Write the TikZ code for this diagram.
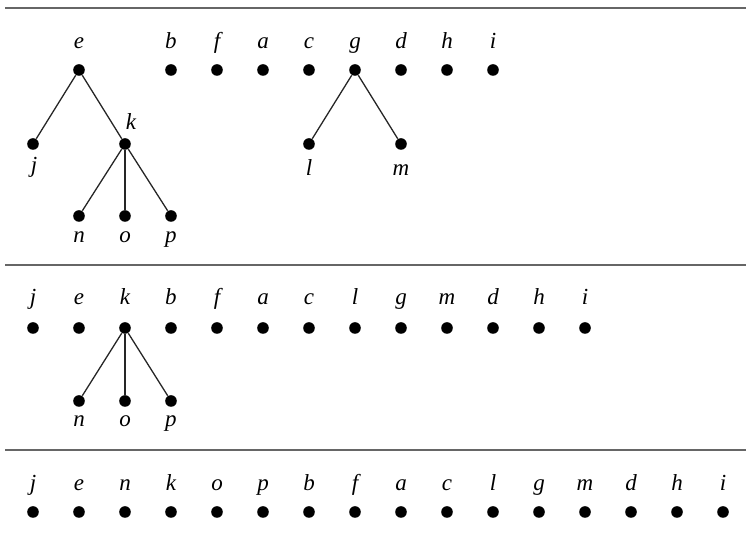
\documentclass[tikz,border=0pt]{standalone}
\usepackage{fontspec}
\setmainfont{Liberation Serif}
\tikzset{vertex/.style={circle, fill=black, inner sep=0pt, minimum size=5.8pt},
  vlabel/.style={anchor=base, inner sep=0pt, font=\fontsize{11.5}{13}\selectfont\itshape},
  edge/.style={line width=0.65pt, black!85},
  rule/.style={line width=0.8pt, black!60}}

\begin{document}
\begin{tikzpicture}[x=0.5pt, y=-0.5pt]
    \useasboundingbox (0,0) rectangle (746,533);
    % separating rules
    \coordinate (ra) at (5,8);   \coordinate (rb) at (746,8);
    \coordinate (rc) at (5,265); \coordinate (rd) at (746,265);
    \coordinate (re) at (5,450); \coordinate (rf) at (746,450);
    \draw[rule] (ra) -- (rb);
    \draw[rule] (rc) -- (rd);
    \draw[rule] (re) -- (rf);

    % first forest
    \foreach \v/\x in {e/79, b/171, f/217, a/263, c/309, g/355, d/401, h/447, i/493}
      \path (\x,70) node[vertex] (t\v) {}
            (\x,49) node[vlabel] (tl\v) {\v};
    \path
    (33,144) node[vertex] (tj) {}
    (125,144) node[vertex] (tk) {}
    (309,144) node[vertex] (tl) {}
    (401,144) node[vertex] (tm) {}
    (79,216) node[vertex] (tn) {}
    (125,216) node[vertex] (to) {}
    (171,216) node[vertex] (tp) {};
    \path
    (34,173) node[vlabel] (tlj) {j}
    (131,130) node[vlabel] (tlk) {k}
    (309,176) node[vlabel] (tll) {l}
    (401,176) node[vlabel] (tlm) {m}
    (79,243) node[vlabel] (tln) {n}
    (125,243) node[vlabel] (tlo) {o}
    (171,243) node[vlabel] (tlp) {p};
    \draw[edge] (tj) -- (te) -- (tk);
    \draw[edge] (tn) -- (tk) -- (tp);
    \draw[edge] (tk) -- (to);
    \draw[edge] (tl) -- (tg) -- (tm);

    % second forest
    \foreach \v [count=\i from 0] in {j,e,k,b,f,a,c,l,g,m,d,h,i}
      \path (33+46*\i,328) node[vertex] (m\v) {}
            (33+46*\i,305) node[vlabel] (ml\v) {\v};
    \path
    (79,401) node[vertex] (mn) {}
    (125,401) node[vertex] (mo) {}
    (171,401) node[vertex] (mp) {};
    \path
    (79,427) node[vlabel] (mln) {n}
    (125,427) node[vlabel] (mlo) {o}
    (171,427) node[vlabel] (mlp) {p};
    \draw[edge] (mn) -- (mk) -- (mp);
    \draw[edge] (mk) -- (mo);

    % final order
    \foreach \v [count=\i from 0] in {j,e,n,k,o,p,b,f,a,c,l,g,m,d,h,i}
      \path (33+46*\i,512) node[vertex] (b\v) {}
            (33+46*\i,491) node[vlabel] (bl\v) {\v};
\end{tikzpicture}
\end{document}
